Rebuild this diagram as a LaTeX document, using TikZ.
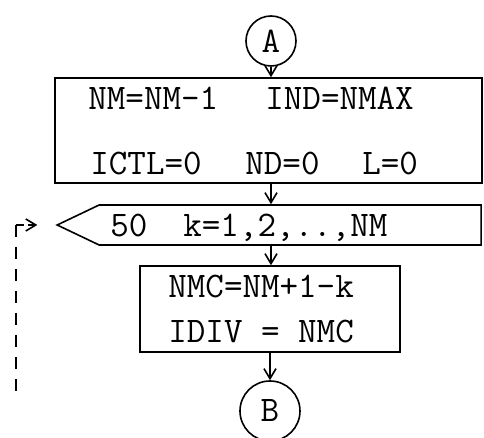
\documentclass[tikz,border=0pt]{standalone}
\usetikzlibrary{arrows.meta,positioning,shapes.symbols}
\tikzset{
  flowline/.style={line width=0.8pt},
  flowtext/.style={font=\fontsize{18}{21}\selectfont\ttfamily,
    inner sep=0pt,anchor=base west},
  conn/.style={circle,draw,line width=0.8pt,inner sep=0pt,
    font=\fontsize{18}{21}\selectfont\ttfamily},
  tip/.style={-{Straight Barb[length=5pt,width=6pt]}},
  backline/.style={flowline,dash pattern=on 6pt off 5pt}
}
\begin{document}
\begin{tikzpicture}[x=0.5pt,y=-0.5pt]
  \useasboundingbox (0,0) rectangle (484,438);
  % Connector A
  \node[conn,minimum size=25pt] (A) at (271,41) {A};
  % Initial settings
  \node[draw,flowline,minimum width=213.5pt,minimum height=52.5pt]
    (init) at (268.5,130.5) {};
  \node[flowtext] (nm) at (88,110) {NM=NM-1};
  \node[flowtext] (ind) at (265,110) {IND=NMAX};
  \node[flowtext] (ictl) at (90,175) {ICTL=0};
  \node[flowtext] (nd) at (245,175) {ND=0};
  \node[flowtext] (l) at (362,175) {L=0};
  % Loop 50
  \node[signal,signal to=west,signal pointer angle=51,draw,flowline,
    minimum width=212pt,minimum height=20pt,inner sep=0pt,anchor=east]
    (loop) at (482,225) {};
  \node[flowtext] (lab) at (110,237) {50};
  \node[flowtext] (range) at (183,237) {k=1,2,..,NM};
  % Loop body
  \node[draw,flowline,minimum width=130pt,minimum height=43pt]
    (body) at (270,309) {};
  \node[flowtext] (nmc) at (168,298) {NMC=NM+1-k};
  \node[flowtext] (idiv) at (168,343) {IDIV = NMC};
  % Connector B
  \node[conn,minimum size=30pt] (B) at (270,411) {B};
  % Flow arrows
  \draw[flowline,tip] (A) -- (A |- init.north);
  \draw[flowline,tip] (A |- init.south) -- (A |- loop.north);
  \draw[flowline,tip] (A |- loop.south) -- (A |- body.north);
  \draw[flowline,tip] (B |- body.south) -- (B);
  % Return of the loop
  \coordinate (back) at (16,392);
  \coordinate (corner) at (back |- loop.west);
  \draw[backline] (corner) -- (back);
  \draw[backline,dash pattern=on 4pt off 2pt,tip]
    (corner) -- ([xshift=-9pt]loop.west);
\end{tikzpicture}
\end{document}
